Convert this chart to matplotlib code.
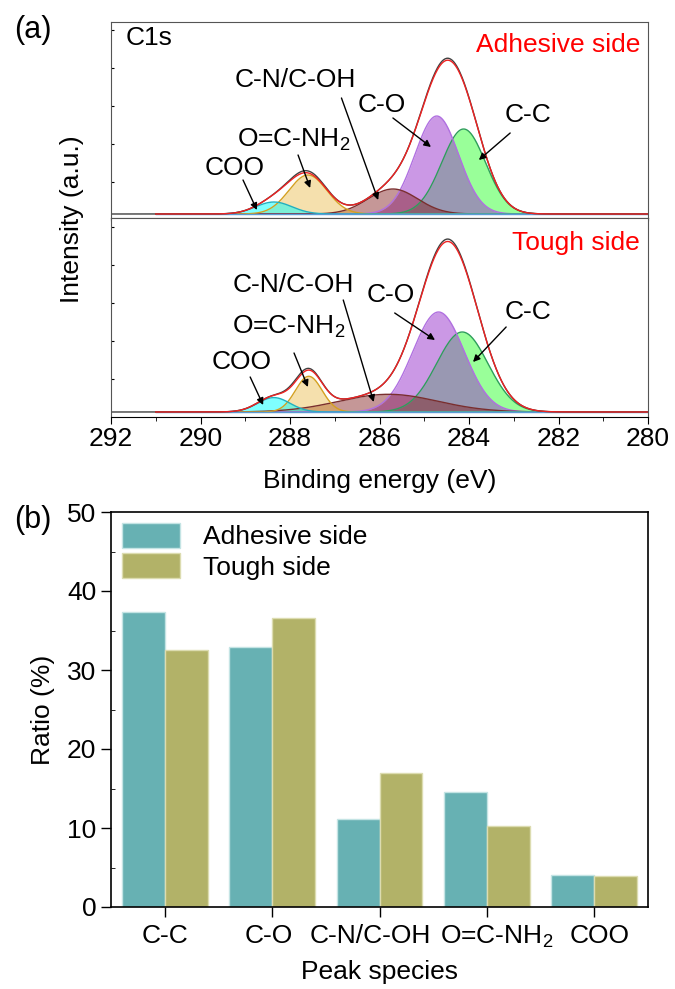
import numpy as np
import matplotlib
matplotlib.use('Agg')
import matplotlib.pyplot as plt
import matplotlib.transforms as mtransforms
from matplotlib.ticker import MultipleLocator

plt.rcParams['font.family'] = ['Liberation Sans', 'DejaVu Sans']
plt.rcParams['mathtext.default'] = 'regular'
FS = 19

# ---- XPS C1s fit: (centre eV, height a.u., FWHM eV)
species = ['C-C', 'C-O', 'C-N/C-OH', 'O=C-NH$_2$', 'COO']
adh_center = [284.12, 284.72, 285.70, 287.60, 288.36]
adh_height = [85, 98, 25, 39, 12]
adh_fwhm = [1.15, 1.15, 1.3, 1.0, 0.95]
tough_center = [284.15, 284.68, 285.80, 287.58, 288.36]
tough_height = [80, 100, 17.7, 35.7, 14.4]
tough_fwhm = [1.35, 1.35, 2.6, 0.7, 0.85]
# small differences between raw data and fit envelope (centre, extra height, FWHM)
adh_resid = [(284.55, 2.0, 0.9), (287.65, 2.0, 0.8)]
tough_resid = [(284.50, 2.4, 0.9), (287.75, 2.0, 0.7)]

fill_col = ['#00ff00', '#9933cc', '#801a1a', '#e6b333', '#00ffff']
fill_alpha = [0.4, 0.5, 0.45, 0.4, 0.5]
edge_col = ['#2e9e5b', '#b070e0', '#7a2e2e', '#d4a020', '#20b0c0']

# ---- peak ratios (%)
ratio_adh = [37.3, 32.9, 11.2, 14.6, 4.1]
ratio_tough = [32.5, 36.6, 16.9, 10.2, 3.9]
# horizontal nudge of the category labels (px), as in the original
label_shift = [0, -3, -9, 10, 5]


def gauss(e, c, h, w):
    return h * np.exp(-4 * np.log(2) * (e - c) ** 2 / w ** 2)


e_fit = np.linspace(291, 280, 700)
e_raw = np.linspace(292, 280, 700)

fig = plt.figure(figsize=(6.75, 9.89), dpi=100)
W, H = 675, 989
ax1 = fig.add_axes([111 / W, 1 - 218 / H, 537 / W, 196 / H])
ax2 = fig.add_axes([111 / W, 1 - 417 / H, 537 / W, 199 / H])
ax3 = fig.add_axes([111 / W, 1 - 907 / H, 537 / W, 395 / H])


def draw_spectrum(ax, cen, hei, fw, resid):
    comps = [gauss(e_fit, c, h, w) for c, h, w in zip(cen, hei, fw)]
    for i in range(5):
        ax.fill_between(e_fit, 0, comps[i], color=fill_col[i],
                        alpha=fill_alpha[i], lw=0)
    for i in range(5):
        ax.plot(e_fit, comps[i], color=edge_col[i], lw=1)
    ax.plot(e_fit, np.zeros_like(e_fit), color='#5b9bd5', lw=1)
    env = np.sum(comps, axis=0)
    raw = sum(gauss(e_raw, c, h, w) for c, h, w in zip(cen, hei, fw))
    raw = raw + sum(gauss(e_raw, c, h, w) for c, h, w in resid)
    ax.plot(e_raw, raw, color='#404040', lw=1)
    ax.plot(e_fit, env, color='#ee2222', lw=1)


draw_spectrum(ax1, adh_center, adh_height, adh_fwhm, adh_resid)
draw_spectrum(ax2, tough_center, tough_height, tough_fwhm, tough_resid)

ax1.set_ylim(-4, 192)
ax2.set_ylim(-5, 194)
ax1.set_yticks(np.arange(32, 192, 38))
ax2.set_yticks(np.arange(33, 194, 38))
for ax in (ax1, ax2):
    ax.set_xlim(292, 280)
    ax.tick_params(axis='y', direction='in', length=2, labelleft=False)
    for s in ax.spines.values():
        s.set_color('#555555')
ax1.set_xticks(np.arange(292, 279, -1))
ax1.tick_params(axis='x', direction='out', length=2, labelbottom=False)
ax2.spines['bottom'].set_color('k')
ax2.xaxis.set_major_locator(MultipleLocator(2))
ax2.xaxis.set_minor_locator(MultipleLocator(1))
ax2.tick_params(axis='x', which='major', direction='out', length=5,
                labelsize=FS, pad=2)
ax2.tick_params(axis='x', which='minor', direction='out', length=3)
ax2.set_xlabel('Binding energy (eV)', fontsize=FS, labelpad=13)
fig.text(72 / W, 1 - 219 / H, 'Intensity (a.u.)', rotation=90,
         fontsize=FS, ha='center', va='center')

ax1.text(0.027, 0.92, 'C1s', transform=ax1.transAxes, fontsize=FS,
         ha='left', va='center')
ax1.text(0.985, 0.885, 'Adhesive side', transform=ax1.transAxes,
         fontsize=FS, color='#ff0000', ha='right', va='center')
ax2.text(0.985, 0.875, 'Tough side', transform=ax2.transAxes,
         fontsize=FS, color='#ff0000', ha='right', va='center')

# labels: (text, text pos, arrow tail, arrow head)
adh_notes = [
    ('C-N/C-OH', (287.89, 134), (286.85, 116), (286.03, 14)),
    ('C-O', (285.94, 109), (285.70, 96), (284.85, 67)),
    ('C-C', (282.68, 99), (283.08, 81), (283.78, 54)),
    ('O=C-NH$_2$', (287.91, 74), (287.82, 59), (287.55, 26)),
    ('COO', (289.23, 46), (289.05, 34), (288.74, 4)),
]
tough_notes = [
    ('C-N/C-OH', (287.93, 127), (286.81, 112), (286.13, 10)),
    ('C-O', (285.74, 117), (285.66, 99), (284.76, 72)),
    ('C-C', (282.68, 100), (283.17, 85), (283.91, 50)),
    ('O=C-NH$_2$', (288.03, 85), (287.91, 59), (287.60, 25)),
    ('COO', (289.07, 50), (288.89, 35), (288.60, 7)),
]
for ax, notes in ((ax1, adh_notes), (ax2, tough_notes)):
    for txt, tp, tail, head in notes:
        ax.text(tp[0], tp[1], txt, fontsize=FS, ha='center', va='center')
        ax.annotate('', xy=head, xytext=tail,
                    arrowprops=dict(arrowstyle='-|>', color='k', lw=1,
                                    mutation_scale=10, shrinkA=0, shrinkB=0))

fig.text(33 / W, 1 - 30 / H, '(a)', fontsize=22, ha='center', va='center')
fig.text(33 / W, 1 - 520 / H, '(b)', fontsize=22, ha='center', va='center')

# ---- bar chart
x = np.arange(len(species))
bw = 0.4
ax3.bar(x - bw / 2, ratio_adh, bw, color='#67b1b3', edgecolor='#c4e4e4',
        lw=1, label='Adhesive side')
ax3.bar(x + bw / 2, ratio_tough, bw, color='#b2b268', edgecolor='#dcdcb0',
        lw=1, label='Tough side')
ax3.set_xlim(-0.5, 4.5)
ax3.set_ylim(0, 50)
ax3.set_xticks(x)
ax3.set_xticklabels([])
# category labels placed by hand so they can be nudged like the original
trans = mtransforms.blended_transform_factory(ax3.transData, ax3.transAxes)
for xi, name, dx in zip(x, species, label_shift):
    t = ax3.text(xi, -0.092, name, transform=trans, fontsize=FS,
                 ha='center', va='baseline')
    t.set_transform(trans + mtransforms.ScaledTranslation(
        dx / 100, 0, fig.dpi_scale_trans))
ax3.yaxis.set_major_locator(MultipleLocator(10))
ax3.yaxis.set_minor_locator(MultipleLocator(5))
ax3.tick_params(axis='both', which='major', direction='out', length=7,
                labelsize=FS, width=1)
ax3.tick_params(axis='y', which='minor', direction='in', length=3)
ax3.tick_params(axis='x', which='minor', bottom=False)
ax3.set_xlabel('Peak species', fontsize=FS)
ax3.xaxis.set_label_coords(0.5, -0.133)
ax3.set_ylabel('Ratio (%)', fontsize=FS)
ax3.yaxis.set_label_coords(-0.105, 0.5)
for s in ax3.spines.values():
    s.set_linewidth(1.2)
ax3.legend(loc='upper left', frameon=False, fontsize=FS, handlelength=2.2,
           handleheight=1.1, handletextpad=0.9, labelspacing=0.15,
           borderpad=0.4, borderaxespad=0)

fig.savefig('out.png', dpi=100)
